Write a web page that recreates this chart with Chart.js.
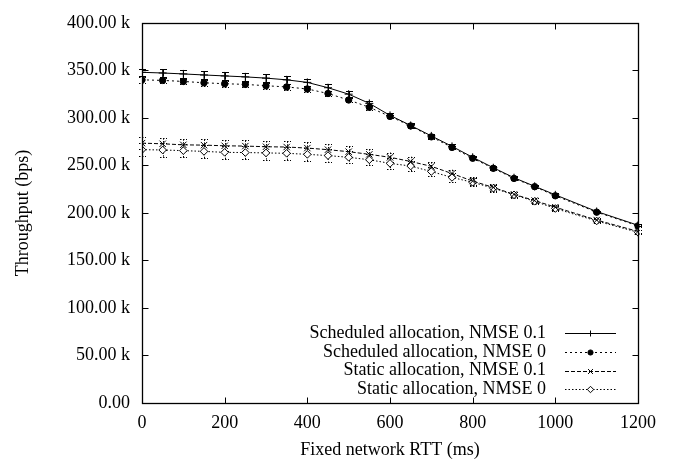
<!DOCTYPE html>
<html>
<head>
<meta charset="utf-8">
<script src="https://cdn.jsdelivr.net/npm/chart.js@4/dist/chart.umd.min.js"></script>
<style>
  html, body { margin: 0; padding: 0; background: #ffffff; }
  #wrap { width: 675px; height: 461px; }
</style>
</head>
<body>
<div id="wrap"><canvas id="c" width="675" height="461"></canvas></div>
<script>
// ---- data (throughput in k bps) ----
const rttMs = [0, 50, 100, 150, 200, 250, 300, 350, 400, 450, 500, 550, 600, 650, 700, 750, 800, 850, 900, 950, 1000, 1100, 1200];

const schedNmse01 = [347.9, 347.2, 346.2, 345.1, 344.1, 343.1, 341.8, 340.0, 337.3, 331.7, 324.9, 315.2, 302.6, 292.0, 281.0, 270.0, 258.5, 247.5, 237.0, 228.0, 219.0, 201.5, 187.0];
const schedNmse0  = [340.0, 339.4, 338.3, 336.9, 335.9, 335.2, 333.8, 332.5, 330.4, 325.6, 318.8, 311.1, 301.5, 291.5, 280.0, 268.9, 257.5, 246.9, 236.3, 227.6, 218.0, 200.8, 186.4];
const staticNmse01 = [273.4, 272.7, 271.6, 271.3, 270.6, 270.3, 269.6, 269.3, 268.2, 266.5, 264.4, 261.6, 258.5, 254.1, 249.0, 241.4, 233.5, 226.8, 219.5, 213.0, 206.0, 192.5, 180.5];
const staticNmse0  = [266.5, 266.2, 265.5, 264.7, 263.7, 263.5, 263.1, 262.7, 261.6, 260.3, 258.5, 255.9, 252.1, 249.3, 243.5, 237.3, 232.2, 226.0, 219.0, 212.2, 204.6, 191.5, 179.6];

const errSchedNmse01 = [4, 4, 4, 4, 4, 4, 4, 4, 3.5, 3.5, 3, 3, 2.5, 2.5, 2, 2, 1.5, 1.5, 1.5, 1.5, 1.5, 1, 1];
const errSchedNmse0  = [3, 3, 3, 3, 3, 3, 3, 3, 3, 3, 2.5, 2.5, 2, 2, 2, 1.5, 1.5, 1.5, 1.5, 1, 1, 1, 1];
const errStaticNmse01 = [6, 6, 6, 6, 6, 6, 6, 6, 6, 6, 5.5, 5.5, 5, 5, 4.5, 4, 4, 3.5, 3, 3, 2.5, 2, 2];
const errStaticNmse0  = [7, 7, 7, 7, 7, 7, 7, 7, 7, 6.5, 6.5, 6, 6, 5.5, 5, 4.5, 4, 3.5, 3, 3, 2.5, 2, 2];

const seriesNames = ['Scheduled allocation, NMSE 0.1', 'Scheduled allocation, NMSE 0', 'Static allocation, NMSE 0.1', 'Static allocation, NMSE 0'];

const xTicks = [0, 200, 400, 600, 800, 1000, 1200];
const xTickLabels = ['0', '200', '400', '600', '800', '1000', '1200'];
const yTicks = [0, 50, 100, 150, 200, 250, 300, 350, 400];
const yTickLabels = ['0.00', '50.00 k', '100.00 k', '150.00 k', '200.00 k', '250.00 k', '300.00 k', '350.00 k', '400.00 k'];

const xTitle = 'Fixed network RTT (ms)';
const yTitle = 'Throughput (bps)';

// ---- helpers ----
function pts(ys) { return rttMs.map((x, i) => ({ x: x, y: ys[i] })); }

const FONT = 'Liberation Serif, Times New Roman, serif';
Chart.defaults.font.family = FONT;
Chart.defaults.font.size = 18;
Chart.defaults.color = '#000';

const styles = [
  { dash: [], point: 'cross', radius: 4, bg: '#000', lr: 3 },
  { dash: [2, 3], point: 'circle', radius: 3.2, bg: '#000', lr: 2.6 },
  { dash: [4, 2], point: 'crossRot', radius: 4.5, bg: '#000', lr: 3.5 },
  { dash: [1.5, 2], point: 'rectRot', radius: 3.8, bg: '#fff', lr: 3.2 }
];
const seriesData = [schedNmse01, schedNmse0, staticNmse01, staticNmse0];
const seriesErr = [errSchedNmse01, errSchedNmse0, errStaticNmse01, errStaticNmse0];

const datasets = seriesData.map((d, i) => ({
  label: seriesNames[i],
  data: pts(d),
  borderColor: '#000',
  borderWidth: 1,
  borderDash: styles[i].dash,
  backgroundColor: styles[i].bg,
  pointStyle: styles[i].point,
  pointRadius: styles[i].radius,
  pointBorderColor: '#000',
  pointBackgroundColor: styles[i].bg,
  pointBorderWidth: 1,
  tension: 0,
  fill: false,
  errs: seriesErr[i]
}));

function drawMarker(ctx, style, x, y, r, bg) {
  ctx.save();
  ctx.setLineDash([]);
  ctx.lineWidth = 1;
  ctx.strokeStyle = '#000';
  ctx.fillStyle = bg;
  ctx.beginPath();
  if (style === 'cross') {
    ctx.moveTo(x - r, y); ctx.lineTo(x + r, y);
    ctx.moveTo(x, y - r); ctx.lineTo(x, y + r);
    ctx.stroke();
  } else if (style === 'crossRot') {
    const d = r * Math.SQRT1_2;
    ctx.moveTo(x - d, y - d); ctx.lineTo(x + d, y + d);
    ctx.moveTo(x - d, y + d); ctx.lineTo(x + d, y - d);
    ctx.stroke();
  } else if (style === 'circle') {
    ctx.arc(x, y, r, 0, Math.PI * 2);
    ctx.fill(); ctx.stroke();
  } else if (style === 'rectRot') {
    ctx.moveTo(x, y - r); ctx.lineTo(x + r, y); ctx.lineTo(x, y + r); ctx.lineTo(x - r, y); ctx.closePath();
    ctx.fill(); ctx.stroke();
  }
  ctx.restore();
}

const errorBars = {
  id: 'errorBars',
  beforeDatasetsDraw(chart) {
    const ctx = chart.ctx, xs = chart.scales.x, ys = chart.scales.y;
    ctx.save();
    chart.data.datasets.forEach((ds, i) => {
      ctx.strokeStyle = '#000';
      ctx.lineWidth = 1;
      ctx.setLineDash(ds.borderDash && ds.borderDash.length ? [1.5, 1.5] : []);
      ds.data.forEach((p, j) => {
        const e = ds.errs[j];
        const px = Math.round(xs.getPixelForValue(p.x)) + 0.5;
        const y1 = ys.getPixelForValue(p.y + e);
        const y2 = ys.getPixelForValue(p.y - e);
        ctx.beginPath();
        ctx.moveTo(px, y1); ctx.lineTo(px, y2);
        ctx.moveTo(px - 3.5, Math.round(y1) + 0.5); ctx.lineTo(px + 3.5, Math.round(y1) + 0.5);
        ctx.moveTo(px - 3.5, Math.round(y2) + 0.5); ctx.lineTo(px + 3.5, Math.round(y2) + 0.5);
        ctx.stroke();
      });
    });
    ctx.restore();
  }
};

const frame = {
  id: 'frame',
  afterDraw(chart) {
    const ctx = chart.ctx, a = chart.chartArea, xs = chart.scales.x, ys = chart.scales.y;
    const L = Math.round(a.left) + 0.5, R = Math.round(a.right) + 0.5, T = Math.round(a.top) + 0.5, B = Math.round(a.bottom) + 0.5;
    const tl = 6;
    ctx.save();
    ctx.setLineDash([]);
    ctx.strokeStyle = '#000';
    ctx.lineWidth = 1;
    ctx.beginPath();
    xTicks.forEach(v => {
      const px = Math.round(xs.getPixelForValue(v)) + 0.5;
      ctx.moveTo(px, B); ctx.lineTo(px, B - tl);
      ctx.moveTo(px, T); ctx.lineTo(px, T + tl);
    });
    yTicks.forEach(v => {
      const py = Math.round(ys.getPixelForValue(v)) + 0.5;
      ctx.moveTo(L, py); ctx.lineTo(L + tl, py);
      ctx.moveTo(R, py); ctx.lineTo(R - tl, py);
    });
    ctx.stroke();
    ctx.lineWidth = 1.3;
    ctx.strokeRect(L, T, R - L, B - T);

    // legend (inside, bottom-right)
    const rows = [333.3, 351.8, 370.5, 389.2];
    const textRight = 546, lineL = 565, lineR = 616, mx = 590.5;
    ctx.font = '18px ' + FONT;
    ctx.fillStyle = '#000';
    ctx.textAlign = 'right';
    ctx.textBaseline = 'middle';
    chart.data.datasets.forEach((ds, i) => {
      const y = rows[i];
      ctx.fillText(ds.label, textRight, y);
      ctx.save();
      ctx.lineWidth = 1;
      ctx.setLineDash(ds.borderDash);
      ctx.beginPath();
      ctx.moveTo(lineL, Math.round(y) + 0.5); ctx.lineTo(lineR, Math.round(y) + 0.5);
      ctx.stroke();
      ctx.restore();
      drawMarker(ctx, styles[i].point, mx, Math.round(y) + 0.5, styles[i].lr, styles[i].bg);
    });
    ctx.restore();
  }
};

new Chart(document.getElementById('c'), {
  type: 'line',
  data: { datasets: datasets },
  options: {
    responsive: false,
    animation: false,
    events: [],
    layout: { padding: { top: 14, right: 37, left: 0, bottom: 0 } },
    plugins: { legend: { display: false }, tooltip: { enabled: false } },
    scales: {
      x: {
        type: 'linear',
        min: 0, max: 1200,
        afterBuildTicks(s) { s.ticks = xTicks.map(v => ({ value: v })); },
        afterFit(s) { s.height = 58; },
        grid: { display: false, drawTicks: false },
        border: { display: false },
        ticks: {
          padding: 9, maxRotation: 0, autoSkip: false, color: '#000', font: { size: 18 },
          callback: function (v) { const k = xTicks.indexOf(v); return k >= 0 ? xTickLabels[k] : ''; }
        },
        title: { display: true, text: xTitle, color: '#000', font: { size: 18 }, padding: { top: 0, bottom: 0 } }
      },
      y: {
        type: 'linear',
        min: 0, max: 400,
        afterBuildTicks(s) { s.ticks = yTicks.map(v => ({ value: v })); },
        afterFit(s) { s.width = 142; },
        grid: { display: false, drawTicks: false },
        border: { display: false },
        ticks: {
          padding: 12, autoSkip: false, color: '#000', font: { size: 18 },
          callback: function (v) { const k = yTicks.indexOf(v); return k >= 0 ? yTickLabels[k] : ''; }
        },
        title: { display: true, text: yTitle, color: '#000', font: { size: 18 }, padding: { top: 12, bottom: 0 } }
      }
    }
  },
  plugins: [errorBars, frame]
});
</script>
</body>
</html>
